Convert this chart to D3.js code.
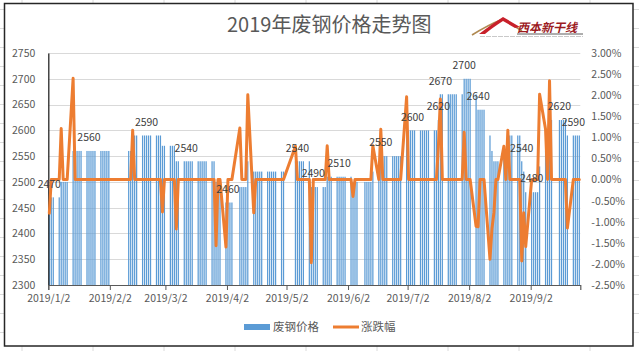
<!DOCTYPE html>
<html>
<head>
<meta charset="utf-8">
<script src="https://cdn.jsdelivr.net/npm/d3@7"></script>
<style>
  body{margin:0;background:#fff;}
  svg text{font-family:"Noto Sans CJK SC","Microsoft YaHei","Liberation Sans",sans-serif;}
</style>
</head>
<body>
<svg id="chart" width="639" height="351"></svg>
<script>
// non-trading days (weekends are skipped too)
var holidays = ["2019-01-01","2019-02-04","2019-02-05","2019-02-06","2019-02-07","2019-02-08",
                "2019-04-05","2019-05-01","2019-05-02","2019-05-03","2019-06-07","2019-09-13"];

// 废钢价格, one value per trading day, month by month
var priceJan = [2470,2470,2470,2470,2500,2500,2500,2500,2560,2560,2560,2560,2560,2560,2560,2560,2560,2560,2560,2560,2560,2560];
var priceFeb = [2560,2560,2560,2590,2590,2590,2590,2590,2590,2590,2590,2590,2590,2590,2570];
var priceMar = [2570,2570,2570,2570,2540,2540,2540,2540,2540,2540,2540,2540,2540,2540,2540,2540,2540,2540,2500,2500,2500];
var priceApr = [2460,2460,2460,2460,2490,2490,2490,2490,2540,2520,2520,2520,2520,2520,2520,2520,2520,2520,2520,2520,2520];
var priceMay = [2540,2540,2540,2540,2540,2540,2490,2490,2490,2490,2490,2490,2510,2510,2510,2510,2510,2510,2510,2510];
var priceJun = [2510,2500,2500,2500,2500,2500,2500,2500,2520,2520,2550,2550,2550,2550,2550,2550,2550,2550,2550];
var priceJul = [2600,2600,2600,2600,2600,2600,2600,2600,2600,2600,2600,2600,2620,2670,2670,2670,2670,2670,2670,2670,2670,2700,2700];
var priceAug = [2700,2700,2670,2640,2640,2640,2640,2590,2560,2540,2540,2540,2560,2560,2590,2590,2590,2590,2590,2540,2520,2480];
var priceSep = [2480,2480,2480,2480,2530,2560,2560,2620,2620,2620,2620,2620,2620,2590,2590,2590,2590,2590];

// 涨跌幅 in %, same days
var chgJan = [-0.8,0,0,0,1.21,0,0,0,2.4,0,0,0,0,0,0,0,0,0,0,0,0,0];
var chgFeb = [0,0,0,1.17,0,0,0,0,0,0,0,0,0,0,-0.77];
var chgMar = [0,0,0,0,-1.17,0,0,0,0,0,0,0,0,0,0,0,0,0,-1.57,0,0];
var chgApr = [-1.6,0,0,0,1.22,0,0,0,2.01,-0.79,0,0,0,0,0,0,0,0,0,0,0];
var chgMay = [0.79,0,0,0,0,0,-1.97,0,0,0,0,0,0.8,0,0,0,0,0,0,0];
var chgJun = [0,-0.4,0,0,0,0,0,0,0.8,0,1.19,0,0,0,0,0,0,0,0];
var chgJul = [1.96,0,0,0,0,0,0,0,0,0,0,0,0.77,1.91,0,0,0,0,0,0,0,1.12,0];
var chgAug = [0,0,-1.11,-1.12,0,0,0,-1.89,-1.16,-0.78,0,0,0.79,0,1.17,0,0,0,0,-1.93,-0.79,-1.59];
var chgSep = [0,0,0,0,2.02,1.19,0,2.34,0,0,0,0,0,-1.15,0,0,0,0];

// days that carry a data label
var labelDays = ["2019-01-02","2019-01-22","2019-02-20","2019-03-12","2019-04-02","2019-05-07","2019-05-15",
                 "2019-05-28","2019-06-18","2019-07-04","2019-07-17","2019-07-18","2019-07-30","2019-08-06",
                 "2019-08-28","2019-09-02","2019-09-16","2019-09-23"];

var priceTicks = [2300,2350,2400,2450,2500,2550,2600,2650,2700,2750];
var pctTicks = [-0.025,-0.02,-0.015,-0.01,-0.005,0,0.005,0.01,0.015,0.02,0.025,0.03];
var monthTicks = ["2019-01-02","2019-02-02","2019-03-02","2019-04-02","2019-05-02","2019-06-02","2019-07-02","2019-08-02","2019-09-02"];
var seriesNames = ["废钢价格","涨跌幅"];

var svg = d3.select("#chart")
  , fmtDay = d3.timeFormat("%Y-%m-%d")
  , parseDay = d3.timeParse("%Y-%m-%d")
  , plot = {left:48.3, right:580.3, top:53, bottom:285}
  , blue = "#5b9bd5"
  , orange = "#ed7d31"
  , textColor = "#595959";

var prices = [].concat(priceJan,priceFeb,priceMar,priceApr,priceMay,priceJun,priceJul,priceAug,priceSep)
  , changes = [].concat(chgJan,chgFeb,chgMar,chgApr,chgMay,chgJun,chgJul,chgAug,chgSep);

var days = d3.timeDay.range(new Date(2019,0,2), new Date(2019,8,27))
  .filter(function(d){ return d.getDay()>0 && d.getDay()<6 && holidays.indexOf(fmtDay(d))<0; });

var data = days.map(function(d,i){
  return {date:d, key:fmtDay(d), price:prices[i], chg:changes[i]/100};
});

var x = d3.scaleTime()
    .domain([new Date(2019,0,2), new Date(2019,8,27)])
    .range([plot.left, plot.right])
  , y = d3.scaleLinear().domain([2300,2750]).range([plot.bottom, plot.top])
  , yPct = d3.scaleLinear().domain([-0.025,0.03]).range([plot.bottom, plot.top])
  , slot = x(new Date(2019,0,3)) - x(new Date(2019,0,2))
  , barW = slot*0.62;

function cx(d){ return x(d.date) + slot/2; }

// spreadsheet behind the chart
var sheet = svg.append("g").attr("id","sheet");
sheet.selectAll(".col").data(d3.range(9)).enter().append("line")
  .attr("x1",function(i){ return 22+71*i; }).attr("x2",function(i){ return 22+71*i; })
  .attr("y1",0).attr("y2",351)
  .attr("stroke","#dadada").attr("stroke-width",1);
sheet.selectAll(".row").data(d3.range(19)).enter().append("line")
  .attr("x1",0).attr("x2",639)
  .attr("y1",function(i){ return 332.5-19*i; }).attr("y2",function(i){ return 332.5-19*i; })
  .attr("stroke","#dadada").attr("stroke-width",1);

// chart area
svg.append("rect")
  .attr("x",4.5).attr("y",3.5).attr("width",628.5).attr("height",342.5)
  .attr("fill","#fff").attr("stroke","#262626").attr("stroke-width",1.5);

// title
svg.append("text")
  .attr("x",227).attr("y",32)
  .attr("font-size",20).attr("fill",textColor)
  .text("2019年废钢价格走势图");

// logo
var logo = svg.append("g").attr("transform","translate(470,12)");
logo.append("path")
  .attr("d","M2,23 Q18,13 33,7 L52,19")
  .attr("fill","none").attr("stroke","#b08a52").attr("stroke-width",1.6);
logo.append("path")
  .attr("d","M9,22 Q22,12 33,5 L50,15 L45,16 L33,9 Q22,16 15,22 Z")
  .attr("fill","#c8202a");
logo.append("text")
  .attr("x",47).attr("y",20)
  .attr("font-size",12).attr("font-weight","bold").attr("font-style","italic")
  .attr("fill","#9c1b1f")
  .text("西本新干线");
logo.append("line")
  .attr("x1",47).attr("x2",113).attr("y1",22).attr("y2",22)
  .attr("stroke","#333").attr("stroke-width",0.8);
logo.append("line")
  .attr("x1",10).attr("x2",113).attr("y1",24.5).attr("y2",24.5)
  .attr("stroke","#bbb").attr("stroke-width",0.8).attr("stroke-dasharray","5,1");

// gridlines
svg.append("g").selectAll("line").data(priceTicks.slice(1)).enter().append("line")
  .attr("x1",plot.left).attr("x2",plot.right)
  .attr("y1",function(d){ return Math.round(y(d))+0.5; })
  .attr("y2",function(d){ return Math.round(y(d))+0.5; })
  .attr("stroke","#d9d9d9").attr("stroke-width",1);

// bars
svg.append("g").selectAll("rect").data(data).enter().append("rect")
  .attr("x",function(d){ return x(d.date) + (slot-barW)/2; })
  .attr("width",barW)
  .attr("y",function(d){ return y(d.price); })
  .attr("height",function(d){ return plot.bottom - y(d.price); })
  .attr("fill",blue);

// axes
var yAxis = svg.append("g")
  .attr("transform","translate("+plot.left+",0)")
  .call(d3.axisLeft(y).tickValues(priceTicks).tickSize(0).tickPadding(13).tickFormat(d3.format("d")));
yAxis.select(".domain").attr("stroke","#262626").attr("stroke-width",1.3);

var pctAxis = svg.append("g")
  .attr("transform","translate("+plot.right+",0)")
  .call(d3.axisRight(yPct).tickValues(pctTicks).tickSize(0).tickPadding(11)
    .tickFormat(function(d){ return d3.format(".2%")(d).replace("\u2212","-"); }));
pctAxis.select(".domain").remove();

var xAxis = svg.append("g")
  .attr("transform","translate(0,"+plot.bottom+")")
  .call(d3.axisBottom(x).tickValues(monthTicks.map(parseDay)).tickSize(5).tickPadding(5)
    .tickFormat(d3.timeFormat("%Y/%-m/%-d")));
xAxis.select(".domain").attr("stroke","#595959").attr("stroke-width",1.2);
xAxis.selectAll(".tick line").attr("stroke","#595959");

[yAxis, pctAxis, xAxis].forEach(function(a){
  a.selectAll("text").attr("font-size",10.5).attr("fill",textColor)
    .style("font-family",'"Noto Sans CJK SC","Microsoft YaHei",sans-serif');
});

// 涨跌幅 line
var line = d3.line().x(cx).y(function(d){ return yPct(d.chg); });
svg.append("path")
  .datum(data)
  .attr("fill","none")
  .attr("stroke",orange)
  .attr("stroke-width",3)
  .attr("stroke-linejoin","round")
  .attr("stroke-linecap","round")
  .attr("d",line);

// data labels
svg.append("g").selectAll("text")
  .data(data.filter(function(d){ return labelDays.indexOf(d.key)>=0; }))
  .enter().append("text")
  .attr("x",cx)
  .attr("y",function(d){ return y(d.price) - 13.5; })
  .attr("dy","0.36em")
  .attr("text-anchor","middle")
  .attr("font-size",10.5)
  .attr("fill","#404040")
  .text(function(d){ return d.price; });

// legend
var legend = svg.append("g");
legend.append("rect")
  .attr("x",244).attr("y",324).attr("width",26).attr("height",6)
  .attr("fill",blue);
legend.append("text")
  .attr("x",273).attr("y",327).attr("dy","0.36em")
  .attr("font-size",11.5).attr("fill",textColor)
  .text(seriesNames[0]);
legend.append("line")
  .attr("x1",333).attr("x2",359).attr("y1",327).attr("y2",327)
  .attr("stroke",orange).attr("stroke-width",3);
legend.append("text")
  .attr("x",361).attr("y",327).attr("dy","0.36em")
  .attr("font-size",11.5).attr("fill",textColor)
  .text(seriesNames[1]);
</script>
</body>
</html>
